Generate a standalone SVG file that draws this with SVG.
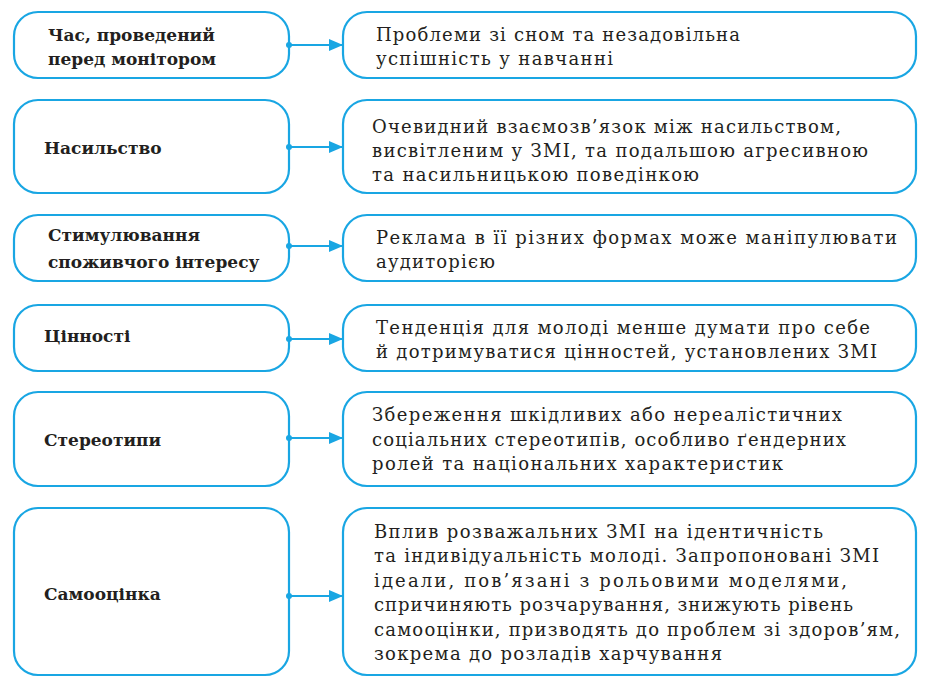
<svg xmlns="http://www.w3.org/2000/svg" width="940" height="690" viewBox="0 0 940 690">
<style>
.box{fill:#fff;stroke:#19a6e3;stroke-width:2.2}
.l{font-family:"DejaVu Serif","Liberation Serif",serif;font-size:17px;font-weight:bold;fill:#231f20}
.r{font-family:"DejaVu Serif","Liberation Serif",serif;font-size:18px;fill:#231f20}
.c{stroke:#19a6e3;stroke-width:2;fill:none}
.d{fill:#19a6e3}
</style>
<defs>
<marker id="ah" markerWidth="14" markerHeight="12" refX="13" refY="6" orient="auto" markerUnits="userSpaceOnUse">
<path d="M0,0 L14,6 L0,12 Z" fill="#19a6e3"/>
</marker>
</defs>
<rect width="940" height="690" fill="#fff"/>
<g id="n1">
<rect class="box" x="14" y="12" width="275" height="66" rx="24"/>
<text class="l" x="48" y="41">Час, проведений</text>
<text class="l" x="48" y="65">перед монітором</text>
</g>
<g id="m1">
<rect class="box" x="343" y="12" width="573" height="66" rx="24"/>
<text class="r" x="376" y="41" textLength="364" lengthAdjust="spacing">Проблеми зі сном та незадовільна</text>
<text class="r" x="376" y="65" textLength="237" lengthAdjust="spacing">успішність у навчанні</text>
</g>
<g id="n2">
<rect class="box" x="14" y="100" width="275" height="93" rx="24"/>
<text class="l" x="44" y="154">Насильство</text>
</g>
<g id="m2">
<rect class="box" x="343" y="100" width="573" height="93" rx="24"/>
<text class="r" x="372" y="133" textLength="469" lengthAdjust="spacing">Очевидний взаємозв’язок між насильством,</text>
<text class="r" x="372" y="157" textLength="496" lengthAdjust="spacing">висвітленим у ЗМІ, та подальшою агресивною</text>
<text class="r" x="372" y="181" textLength="327" lengthAdjust="spacing">та насильницькою поведінкою</text>
</g>
<g id="n3">
<rect class="box" x="14" y="215" width="275" height="66" rx="24"/>
<text class="l" x="48" y="241">Стимулювання</text>
<text class="l" x="48" y="268">споживчого інтересу</text>
</g>
<g id="m3">
<rect class="box" x="343" y="215" width="573" height="66" rx="24"/>
<text class="r" x="376" y="244" textLength="521" lengthAdjust="spacing">Реклама в її різних формах може маніпулювати</text>
<text class="r" x="376" y="268" textLength="119" lengthAdjust="spacing">аудиторією</text>
</g>
<g id="n4">
<rect class="box" x="14" y="305" width="275" height="66" rx="24"/>
<text class="l" x="44" y="342">Цінності</text>
</g>
<g id="m4">
<rect class="box" x="343" y="305" width="573" height="66" rx="24"/>
<text class="r" x="376" y="334" textLength="494" lengthAdjust="spacing">Тенденція для молоді менше думати про себе</text>
<text class="r" x="376" y="358" textLength="501" lengthAdjust="spacing">й дотримуватися цінностей, установлених ЗМІ</text>
</g>
<g id="n5">
<rect class="box" x="14" y="392" width="275" height="94" rx="24"/>
<text class="l" x="44" y="446">Стереотипи</text>
</g>
<g id="m5">
<rect class="box" x="343" y="392" width="573" height="94" rx="24"/>
<text class="r" x="372" y="421" textLength="470" lengthAdjust="spacing">Збереження шкідливих або нереалістичних</text>
<text class="r" x="372" y="446" textLength="474" lengthAdjust="spacing">соціальних стереотипів, особливо ґендерних</text>
<text class="r" x="372" y="470" textLength="411" lengthAdjust="spacing">ролей та національних характеристик</text>
</g>
<g id="n6">
<rect class="box" x="14" y="508" width="275" height="167" rx="24"/>
<text class="l" x="44" y="600">Самооцінка</text>
</g>
<g id="m6">
<rect class="box" x="343" y="508" width="573" height="167" rx="24"/>
<text class="r" x="374" y="538" textLength="449" lengthAdjust="spacing">Вплив розважальних ЗМІ на ідентичність</text>
<text class="r" x="374" y="562" textLength="505" lengthAdjust="spacing">та індивідуальність молоді. Запропоновані ЗМІ</text>
<text class="r" x="374" y="587" textLength="473" lengthAdjust="spacing">ідеали, пов’язані з рольовими моделями,</text>
<text class="r" x="374" y="611" textLength="479" lengthAdjust="spacing">спричиняють розчарування, знижують рівень</text>
<text class="r" x="374" y="636" textLength="526" lengthAdjust="spacing">самооцінки, призводять до проблем зі здоров’ям,</text>
<text class="r" x="374" y="660" textLength="348" lengthAdjust="spacing">зокрема до розладів харчування</text>
</g>
<g id="connectors">
<line class="c" x1="289" y1="45" x2="342" y2="45" marker-end="url(#ah)"/><circle class="d" cx="289" cy="45" r="3"/>
<line class="c" x1="289" y1="147" x2="342" y2="147" marker-end="url(#ah)"/><circle class="d" cx="289" cy="147" r="3"/>
<line class="c" x1="289" y1="246" x2="342" y2="246" marker-end="url(#ah)"/><circle class="d" cx="289" cy="246" r="3"/>
<line class="c" x1="289" y1="339" x2="342" y2="339" marker-end="url(#ah)"/><circle class="d" cx="289" cy="339" r="3"/>
<line class="c" x1="289" y1="438" x2="342" y2="438" marker-end="url(#ah)"/><circle class="d" cx="289" cy="438" r="3"/>
<line class="c" x1="289" y1="596" x2="342" y2="596" marker-end="url(#ah)"/><circle class="d" cx="289" cy="596" r="3"/>
</g>
</svg>
